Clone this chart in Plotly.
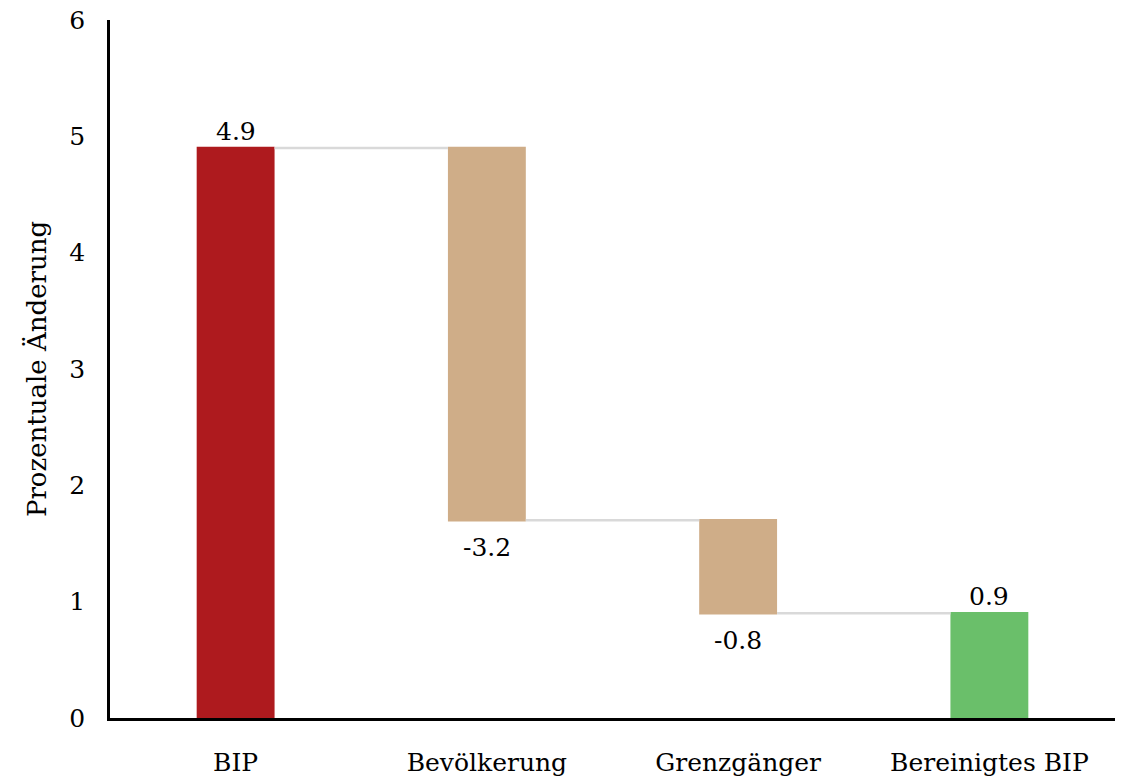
import plotly.graph_objects as go

categories = ["BIP", "Bevölkerung", "Grenzgänger", "Bereinigtes BIP"]
values = [4.9, -3.2, -0.8, 0.9]
measures = ["relative", "relative", "relative", "total"]
labels = ["4.9", "-3.2", "-0.8", "0.9"]
y_ticks = [0, 1, 2, 3, 4, 5, 6]

FONT = "DejaVu Serif"
FS = 25

fig = go.Figure(go.Waterfall(
    x=categories,
    y=values,
    measure=measures,
    textposition="none",
    increasing=dict(marker=dict(color="#AE1A1E")),
    decreasing=dict(marker=dict(color="#CFAD88")),
    totals=dict(marker=dict(color="#6ABF6A")),
    connector=dict(line=dict(color="#D9D9D9", width=2.5)),
    width=0.31,
    hoverinfo="skip",
))

# value labels at bar ends
running = 0.0
for cat, val, meas, lab in zip(categories, values, measures, labels):
    if meas == "total":
        end = running
    else:
        running += val
        end = running
    if val >= 0:
        fig.add_annotation(x=cat, y=end, text=lab, showarrow=False,
                           yanchor="bottom", yshift=0,
                           font=dict(family=FONT, size=FS, color="black"))
    else:
        fig.add_annotation(x=cat, y=end, text=lab, showarrow=False,
                           yanchor="top", yshift=-11,
                           font=dict(family=FONT, size=FS, color="black"))

fig.update_layout(
    width=1122, height=782,
    margin=dict(l=110, r=7, t=20, b=64),
    plot_bgcolor="white", paper_bgcolor="white",
    showlegend=False,
    font=dict(family=FONT, size=FS, color="black"),
    xaxis=dict(showline=True, linecolor="black", linewidth=2.5, showgrid=False,
               ticks="", ticklabelstandoff=20, tickfont=dict(size=FS),
               automargin=False),
    yaxis=dict(range=[0, 6], tickvals=y_ticks, showline=True, linecolor="black",
               linewidth=2.5, showgrid=False, zeroline=False, ticks="",
               ticklabelstandoff=17, tickfont=dict(size=FS), automargin=False,
               title=dict(text="Prozentuale Änderung", font=dict(size=26), standoff=16)),
)

fig.write_html("out.html", config={"displayModeBar": False},
               post_script="document.body.style.margin='0';")
